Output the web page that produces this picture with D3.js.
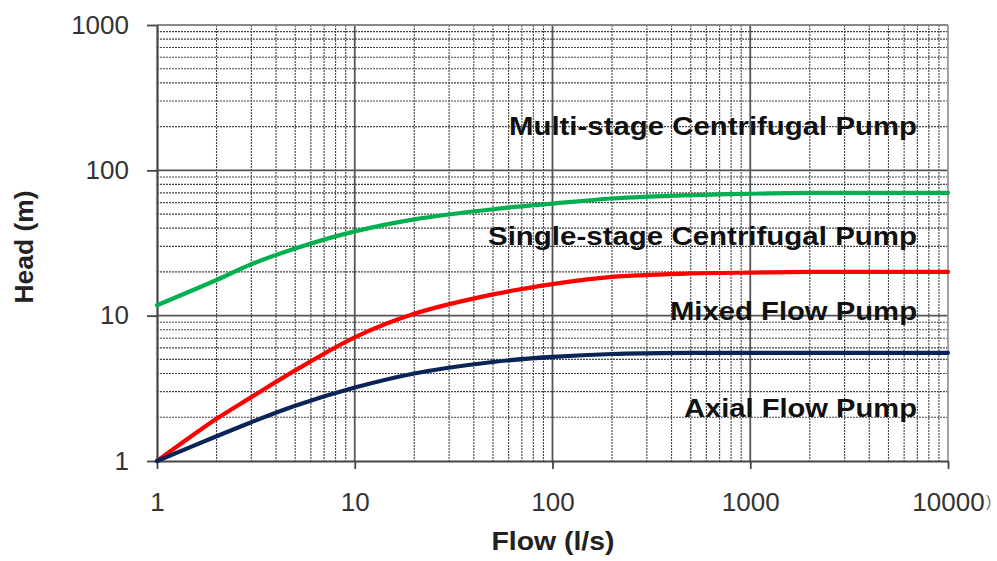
<!DOCTYPE html>
<html><head><meta charset="utf-8">
<script src="https://cdn.jsdelivr.net/npm/d3@7"></script>
<style>
html,body{margin:0;padding:0;background:#fff;}
svg{display:block;font-family:"Liberation Sans",Arial,sans-serif;}
</style></head>
<body><svg id="c" width="997" height="561"></svg>
<script>
const flow = [1, 2, 3, 5, 10, 20, 50, 100, 200, 500, 1000, 2000, 5000, 10000];
const multiStageBoundary = [11.8, 17.6, 22.6, 29, 38, 46, 54, 59, 64, 67.5, 69, 70, 70, 70];
const singleStageBoundary = [1, 1.95, 2.75, 4.2, 7.1, 10.3, 14, 16.5, 18.5, 19.5, 19.8, 20, 20, 20];
const mixedFlowBoundary = [1, 1.48, 1.85, 2.4, 3.2, 4.0, 4.8, 5.2, 5.45, 5.55, 5.55, 5.55, 5.55, 5.55];
const xTicks = [1, 10, 100, 1000, 10000];
const yTicks = [1, 10, 100, 1000];
const regionLabels = ["Multi-stage Centrifugal Pump", "Single-stage Centrifugal Pump", "Mixed Flow Pump", "Axial Flow Pump"];
const seriesColors = ["#00b050", "#ff0000", "#0a2458"];

const svg = d3.select("#c");
const L = 157, R = 948, T = 25, B = 461;
const x = d3.scaleLog().domain([1, 10000]).range([L, R]);
const y = d3.scaleLog().domain([1, 1000]).range([B, T]);

// minor grid
const minorX = [], minorY = [];
for (let d = 1; d < 10000; d *= 10) for (let k = 2; k <= 9; k++) minorX.push(d * k);
for (let d = 1; d < 1000; d *= 10) for (let k = 2; k <= 9; k++) minorY.push(d * k);
const g = svg.append("g");
g.selectAll(".mx").data(minorX).join("line")
  .attr("x1", d => x(d)).attr("x2", d => x(d)).attr("y1", T).attr("y2", B)
  .attr("stroke", "#444").attr("stroke-width", 1.1).attr("stroke-dasharray", "2,1");
g.selectAll(".my").data(minorY).join("line")
  .attr("y1", d => y(d)).attr("y2", d => y(d)).attr("x1", L).attr("x2", R)
  .attr("stroke", "#444").attr("stroke-width", 1.1).attr("stroke-dasharray", "2,1");
// major grid
g.selectAll(".Mx").data(xTicks.slice(1, -1)).join("line")
  .attr("x1", d => x(d)).attr("x2", d => x(d)).attr("y1", T).attr("y2", B)
  .attr("stroke", "#555").attr("stroke-width", 1.8);
g.selectAll(".My").data(yTicks.slice(1, -1)).join("line")
  .attr("y1", d => y(d)).attr("y2", d => y(d)).attr("x1", L).attr("x2", R)
  .attr("stroke", "#555").attr("stroke-width", 1.8);
// border
svg.append("line").attr("x1", L).attr("x2", R).attr("y1", T).attr("y2", T).attr("stroke", "#888").attr("stroke-width", 1.8);
svg.append("line").attr("x1", R).attr("x2", R).attr("y1", T).attr("y2", B).attr("stroke", "#999").attr("stroke-width", 1.8);

// axes
const fmt = d => String(d);
const xAxis = svg.append("g").attr("transform", `translate(0,${B})`)
  .call(d3.axisBottom(x).tickValues(xTicks).tickFormat(fmt).tickSize(8).tickPadding(24).tickSizeOuter(0));
const yAxis = svg.append("g").attr("transform", `translate(${L},0)`)
  .call(d3.axisLeft(y).tickValues(yTicks).tickFormat(fmt).tickSize(10).tickPadding(18).tickSizeOuter(0));
[xAxis, yAxis].forEach(a => {
  a.select(".domain").attr("stroke", "#444").attr("stroke-width", 2.2);
  a.selectAll(".tick line").attr("stroke", "#444").attr("stroke-width", 1.8);
  a.selectAll("text").attr("font-size", 26).attr("fill", "#333")
    .attr("font-family", "'Liberation Sans',Arial,sans-serif");
});

// curves
const series = [multiStageBoundary, singleStageBoundary, mixedFlowBoundary];
const line = d3.line().x((d, i) => x(flow[i])).y(d => y(d)).curve(d3.curveCatmullRom.alpha(0.5));
series.forEach((s, i) => {
  svg.append("path").datum(s).attr("d", line).attr("fill", "none")
    .attr("stroke", seriesColors[i]).attr("stroke-width", 4.2).attr("stroke-linecap", "round");
});

// region labels
const labelWidths = [408, 429, 247, 233];
const labelBase = [135, 245, 320, 417];
regionLabels.forEach((t, i) => {
  svg.append("text").text(t)
    .attr("x", 917).attr("y", labelBase[i]).attr("text-anchor", "end")
    .attr("font-size", 25).attr("font-weight", "bold").attr("fill", "#111")
    .attr("textLength", labelWidths[i]).attr("lengthAdjust", "spacingAndGlyphs");
});

// axis titles
svg.append("text").text("Flow (l/s)").attr("x", 553).attr("y", 550).attr("text-anchor", "middle")
  .attr("font-size", 26).attr("font-weight", "bold").attr("fill", "#222")
  .attr("textLength", 123).attr("lengthAdjust", "spacingAndGlyphs");
svg.append("text").text(")").attr("x", 986).attr("y", 507)
  .attr("font-size", 16).attr("fill", "#777");
svg.append("text").text("Head (m)").attr("transform", "translate(33,247) rotate(-90)")
  .attr("text-anchor", "middle").attr("font-size", 26).attr("font-weight", "bold").attr("fill", "#222")
  .attr("textLength", 113).attr("lengthAdjust", "spacingAndGlyphs");
</script></body></html>
